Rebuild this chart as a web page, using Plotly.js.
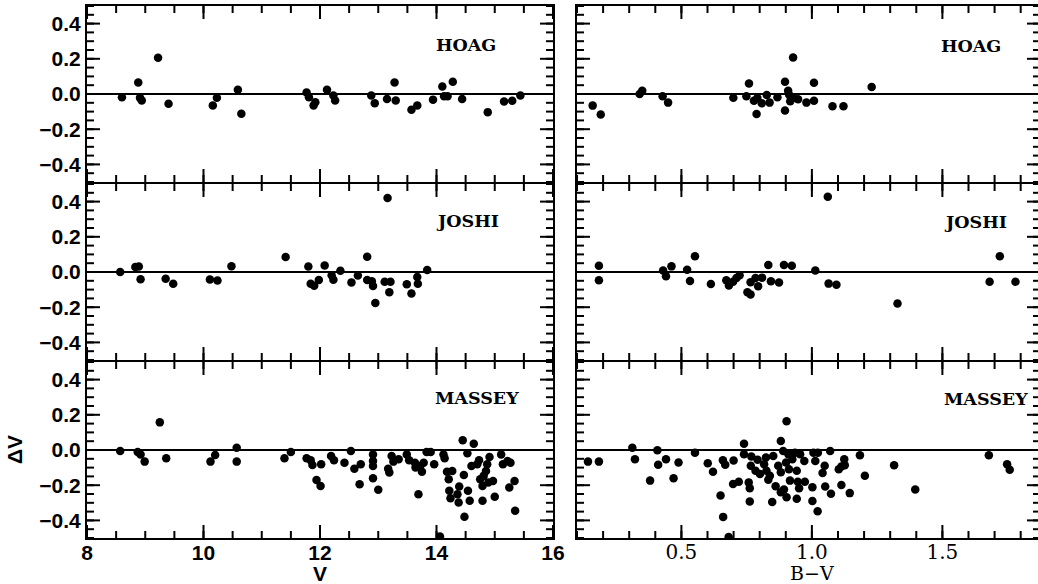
<!DOCTYPE html>
<html>
<head>
<meta charset="utf-8">
<script src="https://cdn.plot.ly/plotly-3.0.1.min.js"></script>
<style>
html,body{margin:0;padding:0;overflow:hidden;background:#fff;}
#chart{width:1041px;height:584px;}
</style>
</head>
<body>
<div id="chart"></div>
<script>
// ---- DATA ----
var panelNames = ["HOAG", "JOSHI", "MASSEY"];

var hoagV  = [8.60,8.88,8.91,8.94,9.22,9.40,10.16,10.23,10.59,10.65,11.77,11.81,11.89,11.92,12.12,12.23,12.26,12.88,12.94,13.15,13.28,13.30,13.57,13.67,13.94,14.10,14.13,14.19,14.28,14.44,14.88,15.16,15.30,15.44];
var hoagVdv = [-0.019,0.065,-0.022,-0.037,0.206,-0.056,-0.065,-0.021,0.024,-0.112,0.009,-0.019,-0.065,-0.047,0.024,-0.009,-0.037,-0.009,-0.052,-0.028,0.065,-0.037,-0.090,-0.065,-0.032,0.043,-0.013,-0.013,0.069,-0.028,-0.103,-0.043,-0.039,-0.009];

var hoagBV  = [0.160,0.191,0.340,0.350,0.428,0.449,0.699,0.749,0.759,0.778,0.791,0.788,0.808,0.827,0.838,0.868,0.897,0.897,0.909,0.913,0.917,0.928,0.929,0.947,0.979,1.008,1.008,1.079,1.121,1.229];
var hoagBVdv = [-0.066,-0.117,0.0,0.019,-0.013,-0.049,-0.021,-0.013,0.060,-0.038,-0.023,-0.113,-0.053,-0.006,-0.049,-0.019,0.070,-0.094,0.019,-0.004,-0.041,0.207,-0.023,-0.030,-0.049,0.064,-0.038,-0.070,-0.070,0.040];

var joshiV  = [8.57,8.83,8.89,8.92,9.35,9.48,10.11,10.24,10.48,11.41,11.80,11.84,11.90,11.98,12.08,12.20,12.23,12.35,12.54,12.65,12.81,12.81,12.89,12.91,12.95,13.11,13.16,13.21,13.19,13.49,13.57,13.67,13.68,13.84];
var joshiVdv = [0.0,0.028,0.031,-0.041,-0.039,-0.067,-0.043,-0.048,0.033,0.085,0.031,-0.067,-0.078,-0.046,0.037,-0.019,-0.044,0.007,-0.059,-0.020,0.087,-0.046,-0.052,-0.080,-0.176,-0.056,0.420,-0.056,-0.115,-0.070,-0.122,-0.028,-0.067,0.011];

var joshiBV  = [0.184,0.184,0.430,0.441,0.462,0.522,0.533,0.552,0.613,0.672,0.682,0.698,0.711,0.723,0.753,0.765,0.765,0.784,0.794,0.809,0.833,0.843,0.874,0.893,0.923,1.013,1.061,1.064,1.094,1.328,1.681,1.720,1.780];
var joshiBVdv = [0.036,-0.047,0.009,-0.024,0.032,0.013,-0.051,0.089,-0.068,-0.047,-0.077,-0.055,-0.034,-0.019,-0.115,-0.128,-0.058,-0.034,-0.081,-0.032,0.040,-0.053,-0.060,0.040,0.036,0.009,0.427,-0.066,-0.073,-0.179,-0.055,0.089,-0.055];

var masseyV  = [8.57,8.87,8.92,8.99,9.25,9.36,10.12,10.20,10.57,10.57,11.39,11.50,11.77,11.84,11.87,11.94,12.01,12.02,12.19,12.24,12.42,12.53,12.59,12.68,12.70,12.91,12.91,12.91,12.91,13.00,13.17,13.19,13.23,13.26,13.35,13.49,13.53,13.63,13.64,13.69,13.72,13.75,13.78,13.83,13.90,13.96,14.06,14.12,14.14,14.18,14.21,14.22,14.24,14.27,14.36,14.38,14.39,14.45,14.47,14.48,14.53,14.54,14.57,14.60,14.64,14.70,14.73,14.75,14.79,14.79,14.81,14.85,14.87,14.89,14.91,14.97,15.00,15.11,15.14,15.22,15.25,15.34,15.35,15.27];
var masseyVdv = [-0.006,-0.011,-0.025,-0.066,0.157,-0.047,-0.066,-0.028,0.013,-0.066,-0.047,-0.011,-0.047,-0.058,-0.085,-0.170,-0.204,-0.081,-0.034,-0.058,-0.072,-0.006,-0.106,-0.194,-0.081,-0.025,-0.062,-0.091,-0.160,-0.226,-0.106,-0.128,-0.034,-0.066,-0.053,-0.025,-0.058,-0.072,-0.100,-0.251,-0.091,-0.123,-0.072,-0.011,-0.011,-0.081,-0.492,-0.025,-0.047,-0.123,-0.166,-0.232,-0.274,-0.119,-0.251,-0.298,-0.208,0.055,-0.142,-0.379,-0.019,-0.232,-0.289,-0.091,0.036,-0.081,-0.058,-0.166,-0.289,-0.204,-0.147,-0.119,-0.081,-0.185,-0.040,-0.176,-0.266,-0.025,-0.081,-0.062,-0.213,-0.176,-0.345,-0.072];

var masseyBV  = [0.142,0.184,0.312,0.322,0.380,0.408,0.411,0.441,0.470,0.489,0.552,0.601,0.621,0.650,0.659,0.660,0.668,0.681,0.700,0.698,0.720,0.740,0.740,0.758,0.762,0.762,0.766,0.768,0.784,0.792,0.801,0.817,0.824,0.826,0.833,0.839,0.848,0.852,0.861,0.871,0.881,0.881,0.881,0.890,0.893,0.901,0.903,0.903,0.910,0.912,0.916,0.925,0.935,0.942,0.946,0.942,0.951,0.955,0.971,0.973,1.002,1.002,1.006,1.013,1.022,1.023,1.041,1.049,1.051,1.070,1.073,1.103,1.113,1.113,1.124,1.126,1.145,1.184,1.203,1.315,1.396,1.678,1.748,1.758];
var masseyBVdv = [-0.066,-0.066,0.013,-0.052,-0.174,-0.002,-0.084,-0.052,-0.161,-0.071,-0.015,-0.075,-0.124,-0.258,-0.058,-0.380,-0.084,-0.494,-0.060,-0.193,-0.180,0.036,-0.024,-0.184,-0.292,-0.217,-0.090,-0.037,-0.118,-0.056,-0.137,-0.081,-0.043,-0.118,-0.169,-0.146,-0.296,-0.034,-0.206,-0.090,0.051,-0.127,-0.240,-0.006,-0.225,-0.071,0.163,-0.268,-0.024,-0.109,-0.174,-0.052,-0.015,-0.118,-0.180,-0.277,-0.217,-0.024,-0.062,-0.180,-0.212,-0.290,-0.015,-0.062,-0.348,-0.015,-0.131,-0.090,-0.208,-0.006,-0.249,-0.109,-0.199,-0.094,-0.052,-0.086,-0.245,-0.030,-0.146,-0.086,-0.225,-0.030,-0.081,-0.112];

var vTicks  = [8, 10, 12, 14, 16];
var bvTicks = [0.5, 1.0, 1.5];
var dvTicks = [-0.4, -0.2, 0.0, 0.2, 0.4];

var labelPosV  = [[14.50, 0.28], [14.53, 0.287], [14.70, 0.296]];
var labelPosBV = [[1.608, 0.273], [1.627, 0.286], [1.668, 0.288]];

// ---- BUILD ----
var sets = [
  [hoagV, hoagVdv, hoagBV, hoagBVdv],
  [joshiV, joshiVdv, joshiBV, joshiBVdv],
  [masseyV, masseyVdv, masseyBV, masseyBVdv]
];

function steps(a, b, d) {
  var out = [], n = Math.round((b - a) / d);
  for (var i = 0; i <= n; i++) out.push(+(a + i * d).toFixed(4));
  return out;
}
var vRange = [8, 16], bvRange = [0.1, 1.874], dvRange = [-0.5, 0.5];
var vMinor = steps(8, 16, 0.5);
var bvMinor = steps(0.1, 1.8, 0.1);
var dvMinor = steps(-0.5, 0.5, 0.05);

var W = 953, H = 532, G = 2, P = (H - 2 * G) / 3;
var leftPx = 466, rightStartPx = 490;
var leftDom = [0, leftPx / W];
var rightDom = [rightStartPx / W, 1];
var rowDom = [[(H - P) / H, 1], [(P + G) / H, (2 * P + G) / H], [0, P / H]];

// pixel -> data-unit converters for tick lengths
var pxV = leftPx / (vRange[1] - vRange[0]);
var pxBV = (W - rightStartPx) / (bvRange[1] - bvRange[0]);
var pxDV = P / (dvRange[1] - dvRange[0]);
var MAJ = 13, MIN = 7;

var marker = {color: '#000', size: 8.5, symbol: 'circle', line: {width: 0}};
var traces = [];
var tickTraces = [];
var layout = {
  width: 1041, height: 584,
  margin: {l: 87, r: 1, t: 6, b: 46, pad: 0},
  paper_bgcolor: '#fff', plot_bgcolor: '#fff',
  showlegend: false,
  annotations: []
};

var sansBold = {family: 'Liberation Sans, Arial, sans-serif', size: 21, color: '#000', weight: 'bold'};
var serifReg = {family: 'DejaVu Serif, serif', size: 20, color: '#000'};

function ax(extra) {
  var a = {ticks: '', showline: true, linecolor: '#000', linewidth: 2, mirror: true,
    showgrid: false, zeroline: false};
  for (var k in extra) a[k] = extra[k];
  return a;
}

// tick marks drawn as line segments through the panel's own axes
function tickTrace(xref, yref, xRange, pxPerX, xMaj, xMin) {
  var X = [], Y = [];
  function vx(vals, len) {
    var d = len / pxDV;
    vals.forEach(function (v) {
      X.push(v, v, null); Y.push(dvRange[0], dvRange[0] + d, null);
      X.push(v, v, null); Y.push(dvRange[1], dvRange[1] - d, null);
    });
  }
  function hy(vals, len) {
    var d = len / pxPerX;
    vals.forEach(function (v) {
      X.push(xRange[0], xRange[0] + d, null); Y.push(v, v, null);
      X.push(xRange[1], xRange[1] - d, null); Y.push(v, v, null);
    });
  }
  vx(xMin, MIN); vx(xMaj, MAJ); hy(dvMinor, MIN); hy(dvTicks, MAJ);
  return {type: 'scatter', mode: 'lines', x: X, y: Y, xaxis: xref, yaxis: yref,
    line: {color: '#000', width: 2}, hoverinfo: 'skip', connectgaps: false};
}

for (var r = 0; r < 3; r++) {
  var iL = 2*r + 1, iR = 2*r + 2;
  var xl = iL === 1 ? 'x' : 'x' + iL, yl = iL === 1 ? 'y' : 'y' + iL;
  var xr = 'x' + iR, yr = 'y' + iR;
  var xlKey = iL === 1 ? 'xaxis' : 'xaxis' + iL, ylKey = iL === 1 ? 'yaxis' : 'yaxis' + iL;

  traces.push({type: 'scatter', mode: 'markers', x: sets[r][0], y: sets[r][1], xaxis: xl, yaxis: yl, marker: marker});
  traces.push({type: 'scatter', mode: 'markers', x: sets[r][2], y: sets[r][3], xaxis: xr, yaxis: yr, marker: marker});
  tickTraces.push(tickTrace(xl, yl, vRange, pxV, vTicks, vMinor));
  tickTraces.push(tickTrace(xr, yr, bvRange, pxBV, bvTicks, bvMinor));

  layout[xlKey] = ax({domain: leftDom, anchor: yl, range: vRange, tickvals: vTicks,
      showticklabels: r === 2, tickfont: sansBold, ticklabelstandoff: -5});
  layout[ylKey] = ax({domain: rowDom[r], anchor: xl, range: dvRange, tickvals: dvTicks, tickformat: '.1f',
      tickfont: sansBold, zeroline: true, zerolinecolor: '#000', zerolinewidth: 2.2});
  layout['xaxis' + iR] = ax({domain: rightDom, anchor: yr, range: bvRange, tickvals: bvTicks, tickformat: '.1f',
      showticklabels: r === 2, tickfont: serifReg, ticklabelstandoff: -5});
  layout['yaxis' + iR] = ax({domain: rowDom[r], anchor: xr, range: dvRange, tickvals: dvTicks,
      showticklabels: false, zeroline: true, zerolinecolor: '#000', zerolinewidth: 2.2});

  var lf = {family: 'DejaVu Serif, serif', size: 17.5, color: '#000', weight: 'bold'};
  layout.annotations.push({xref: xl, yref: yl, x: labelPosV[r][0], y: labelPosV[r][1], text: panelNames[r], showarrow: false, font: lf, xanchor: 'center', yanchor: 'middle'});
  layout.annotations.push({xref: xr, yref: yr, x: labelPosBV[r][0], y: labelPosBV[r][1], text: panelNames[r], showarrow: false, font: lf, xanchor: 'center', yanchor: 'middle'});
}

layout.annotations.push({xref: 'x5', yref: 'paper', x: 12, y: 0, yshift: -35, text: 'V', showarrow: false,
  font: sansBold, xanchor: 'center', yanchor: 'middle'});
layout.annotations.push({xref: 'x6', yref: 'paper', x: 1.0, y: 0, yshift: -35, text: 'B\u2212V', showarrow: false,
  font: {family: 'DejaVu Serif, serif', size: 19, color: '#000'}, xanchor: 'center', yanchor: 'middle'});
layout.annotations.push({xref: 'paper', yref: 'y5', x: 0, xshift: -73, y: 0, text: '\u0394V', textangle: -90, showarrow: false,
  font: sansBold, xanchor: 'center', yanchor: 'middle'});

Plotly.newPlot('chart', traces.concat(tickTraces), layout, {displayModeBar: false});
</script>
</body>
</html>
